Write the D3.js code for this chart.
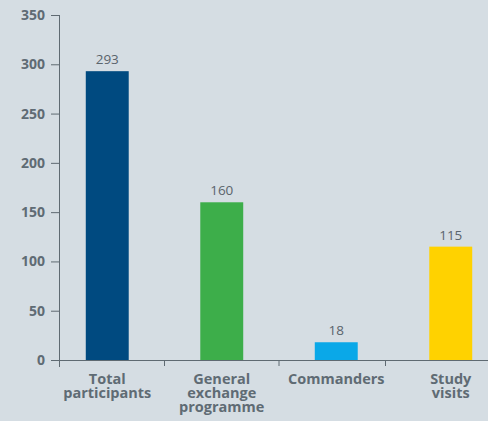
<!DOCTYPE html>
<html><head><meta charset="utf-8">
<script src="https://cdn.jsdelivr.net/npm/d3@7"></script>
<style>
html,body{margin:0;padding:0;background:#d5dde3;}
svg{display:block;}
</style></head>
<body><svg id="c" width="488" height="421"></svg>
<script>
const categories = [["Total","participants"],["General","exchange","programme"],["Commanders"],["Study","visits"]];
const values = [293,160,18,115];
const colors = ["#004a80","#3dae4a","#0aa8e8","#ffd200"];
const yTicks = [0,50,100,150,200,250,300,350];

const svg = d3.select("#c");
svg.append("rect").attr("width",488).attr("height",421).attr("fill","#d5dde3");
const axisColor = "#5f6a72", textColor = "#5f6b74";

const y = d3.scaleLinear().domain([0,350]).range([360,15]);
const x = d3.scaleBand().domain(d3.range(values.length)).range([50,508]).paddingInner(0.625).paddingOuter(0.3125);

// y axis
const ya = svg.append("g").attr("transform","translate(59,0)")
  .call(d3.axisLeft(y).tickValues(yTicks).tickSize(8).tickPadding(6));
ya.select(".domain").remove();
ya.selectAll("line").attr("stroke",axisColor).attr("stroke-width",1);
ya.selectAll("text").attr("fill",textColor).attr("font-family","'Open Sans',sans-serif")
  .attr("font-weight","bold").attr("font-size",14);
svg.append("line").attr("x1",59.5).attr("x2",59.5).attr("y1",y(350)).attr("y2",367)
  .attr("stroke",axisColor).attr("stroke-width",1);

// bars
svg.selectAll("rect.bar").data(values).join("rect").attr("class","bar")
  .attr("x",(d,i)=>x(i)).attr("width",x.bandwidth())
  .attr("y",d=>y(d)).attr("height",d=>y(0)-y(d))
  .attr("fill",(d,i)=>colors[i]);

// x axis line
svg.append("line").attr("x1",59).attr("x2",488).attr("y1",360.5).attr("y2",360.5)
  .attr("stroke",axisColor).attr("stroke-width",1.2);
// category separators
d3.range(1,values.length).forEach(i=>{
  const cx = x(i) - x.step()*x.paddingInner()/2 - (i===3?8:0);
  svg.append("line").attr("x1",cx).attr("x2",cx).attr("y1",360).attr("y2",366)
    .attr("stroke",axisColor).attr("stroke-width",1);
});

// value labels
svg.selectAll("text.val").data(values).join("text").attr("class","val")
  .attr("x",(d,i)=>x(i)+x.bandwidth()/2).attr("y",d=>y(d)-7)
  .attr("text-anchor","middle").attr("fill","#5a646c")
  .attr("font-family","'Open Sans',sans-serif").attr("font-size",13.5)
  .text(d=>d);

// category labels
categories.forEach((lines,i)=>{
  const t = svg.append("text").attr("x",x(i)+x.bandwidth()/2).attr("y",384)
    .attr("text-anchor","middle").attr("fill",textColor)
    .attr("font-family","'Open Sans',sans-serif").attr("font-weight","bold").attr("font-size",14.5);
  lines.forEach((l,j)=>t.append("tspan").attr("x",x(i)+x.bandwidth()/2).attr("dy",j?14:0).text(l));
});
</script></body></html>
